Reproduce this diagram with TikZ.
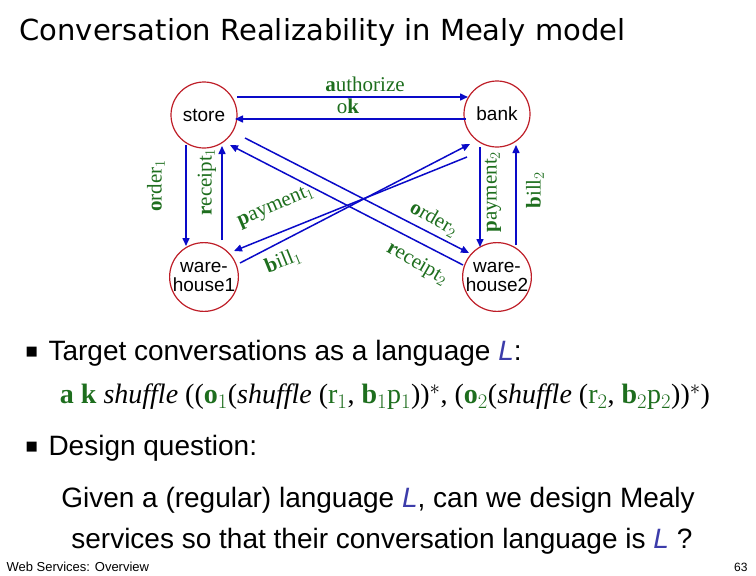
\documentclass[tikz,border=0pt]{standalone}
\usepackage{fontspec}
\setmainfont{Liberation Sans}
\newfontfamily\serifg{Liberation Serif}
\newfontfamily\dvs{DejaVu Sans}
\usetikzlibrary{arrows.meta}
\definecolor{gr}{RGB}{30,110,30}
\definecolor{bl}{RGB}{10,10,200}
\definecolor{rd}{RGB}{190,30,40}
\definecolor{lc}{RGB}{60,60,170}
\begin{document}
\begin{tikzpicture}[x=1pt,y=-1pt,
  st/.style={circle,draw=rd,line width=1.2pt,minimum size=66pt,inner sep=0pt,align=center,font=\fontsize{19}{19}\selectfont},
  ar/.style={draw=bl,line width=1.5pt,-{Triangle[length=8pt,width=7pt]}},
  lb/.style={text=gr,font=\serifg\fontsize{21}{21}\selectfont,inner sep=0pt}]
\useasboundingbox (0,0) rectangle (756,576);
\node[anchor=west,font=\dvs\fontsize{29}{29}\selectfont] (t) at (16,32) {Conversation Realizability in Mealy model};
\node[st] (s) at (204,115) {store};
\node[st] (b) at (497,114) {bank};
\node[st] (w1) at (204,277) {ware-\\house1};
\node[st] (w2) at (497,277) {ware-\\house2};
\coordinate (a1) at (237,97); \coordinate (a2) at (468,97);
\draw[ar] (a1) -- (a2);
\coordinate (k1) at (466,119); \coordinate (k2) at (235,119);
\draw[ar] (k1) -- (k2);
\node[lb] (la) at (365,84) {\textbf{a}uthorize};
\node[lb] (lk) at (348,106) {o\textbf{k}};
\coordinate (o1a) at (186,145); \coordinate (o1b) at (186,246);
\draw[ar] (o1a) -- (o1b);
\coordinate (r1a) at (222,240); \coordinate (r1b) at (222,146);
\draw[ar] (r1a) -- (r1b);
\node[lb,rotate=90] (lo1) at (156,186) {\textbf{o}rder$_1$};
\node[lb,rotate=90] (lr1) at (207,182) {\textbf{r}eceipt$_1$};
\coordinate (p1a) at (467,157); \coordinate (p1b) at (234,251);
\draw[ar] (p1a) -- (p1b);
\coordinate (b1a) at (240,263); \coordinate (b1b) at (470,144);
\draw[ar] (b1a) -- (b1b);
\node[lb,rotate=23] (lp1) at (276,207) {\textbf{p}ayment$_1$};
\node[lb,rotate=22] (lb1) at (283,261) {\textbf{b}ill$_1$};
\coordinate (o2a) at (245,138); \coordinate (o2b) at (469,253);
\draw[ar] (o2a) -- (o2b);
\coordinate (r2a) at (463,265); \coordinate (r2b) at (230,145);
\draw[ar] (r2a) -- (r2b);
\node[lb,rotate=-30] (lo2) at (434,219) {\textbf{o}rder$_2$};
\node[lb,rotate=-30] (lr2) at (417,264) {\textbf{r}eceipt$_2$};
\coordinate (p2a) at (480,147); \coordinate (p2b) at (480,247);
\draw[ar] (p2a) -- (p2b);
\coordinate (b2a) at (516,245); \coordinate (b2b) at (516,145);
\draw[ar] (b2a) -- (b2b);
\node[lb,rotate=90] (lp2) at (493,192) {\textbf{p}ayment$_2$};
\node[lb,rotate=90] (lb2) at (535,190) {\textbf{b}ill$_2$};
\node[anchor=west,font=\dvs\fontsize{13}{13}\selectfont] (bu1) at (22,352) {■};
\node[anchor=west,font=\fontsize{28}{28}\selectfont] (tx1) at (45,353) {Target conversations as a language \textcolor{lc}{\textit{L}}:};
\node[font=\serifg\fontsize{28}{28}\selectfont] (f) at (385,397) {\textcolor{gr}{\textbf{a k}} \textit{shuffle} ((\textcolor{gr}{\textbf{o}$_1$}(\textit{shuffle} (\textcolor{gr}{r$_1$}, \textcolor{gr}{\textbf{b}$_1$p$_1$}))$^*$, (\textcolor{gr}{\textbf{o}$_2$}(\textit{shuffle} (\textcolor{gr}{r$_2$}, \textcolor{gr}{\textbf{b}$_2$p$_2$}))$^*$)};
\node[anchor=west,font=\dvs\fontsize{13}{13}\selectfont] (bu2) at (22,447) {■};
\node[anchor=west,font=\fontsize{28}{28}\selectfont] (tx2) at (45,448) {Design question:};
\node[align=center,font=\fontsize{28}{41}\selectfont] (tx3) at (378,521) {Given a (regular) language \textcolor{lc}{\textit{L}}, can we design Mealy\\\ services so that their conversation language is \textcolor{lc}{\textit{L}} ?};
\node[anchor=west,font=\fontsize{13}{13}\selectfont] (ft) at (3,567) {Web Services: Overview};
\node[anchor=east,font=\fontsize{12}{12}\selectfont] (pg) at (751,567) {63};
\end{tikzpicture}
\end{document}
